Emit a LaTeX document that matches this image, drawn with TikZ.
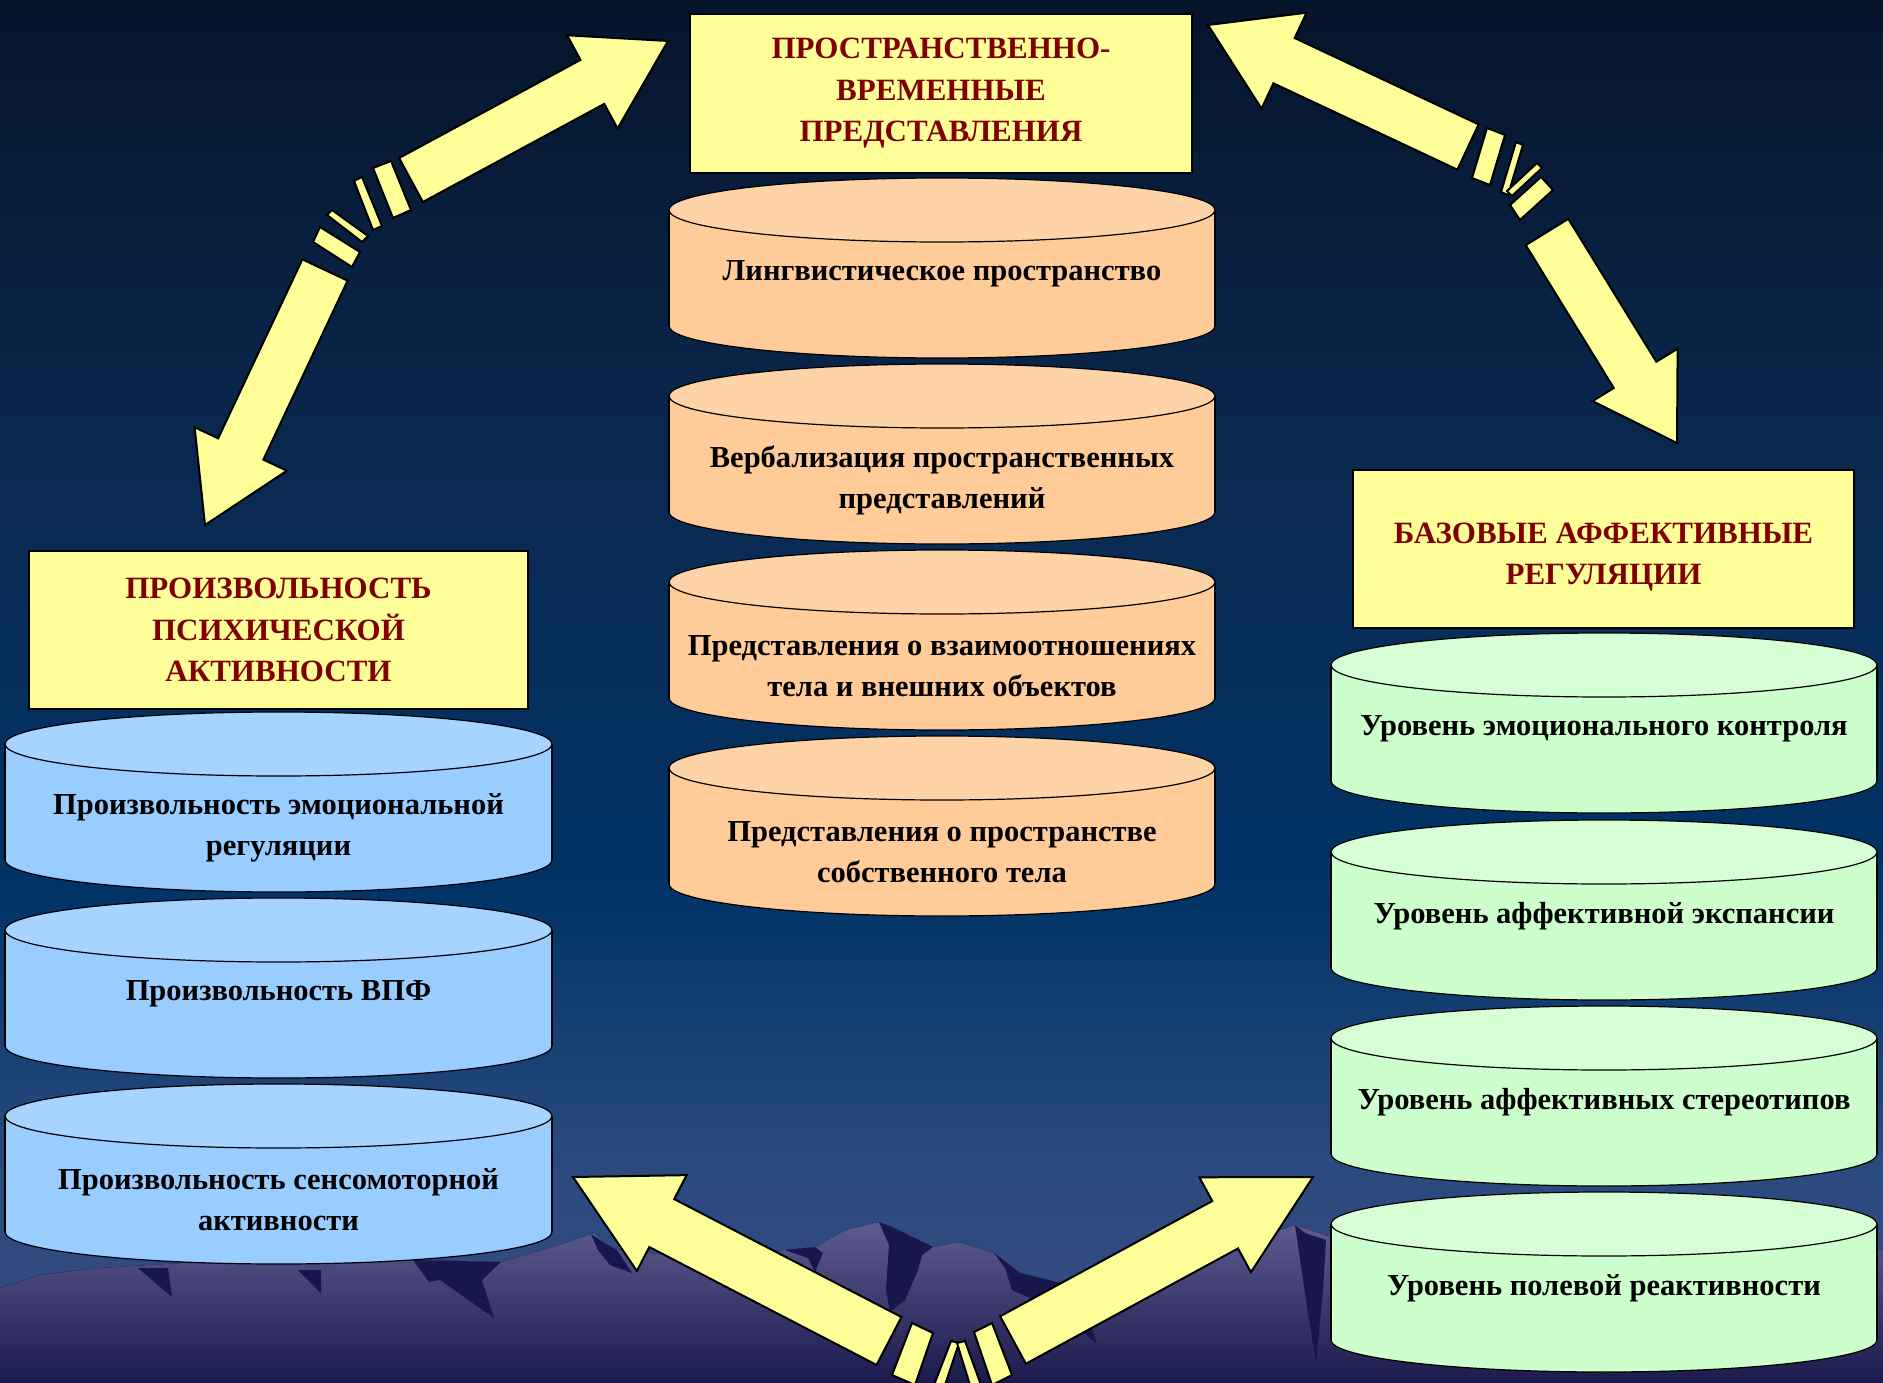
\documentclass[tikz,border=0pt]{standalone}
\usepackage{fontspec}
\setmainfont{Liberation Serif}
\usetikzlibrary{calc}
\definecolor{bgA}{HTML}{06142B}
\definecolor{bgB}{HTML}{0B2A52}
\definecolor{bgC}{HTML}{003366}
\definecolor{bgD}{HTML}{2A4A7E}
\definecolor{bgE}{HTML}{3A4A82}
\definecolor{mtTop}{HTML}{5E5C8E}
\definecolor{mtBot}{HTML}{1B1A4D}
\definecolor{mtDark}{HTML}{17164D}
\definecolor{arrowY}{HTML}{FFFF99}
\definecolor{boxY}{HTML}{FFFF99}
\definecolor{hdrRed}{HTML}{800000}
\definecolor{orBody}{HTML}{FFCC99}
\definecolor{orTop}{HTML}{FFD3A8}
\definecolor{blBody}{HTML}{99CCFF}
\definecolor{blTop}{HTML}{A6D3FF}
\definecolor{grBody}{HTML}{CCFFCC}
\definecolor{grTop}{HTML}{D6FFD6}
\pgfdeclareverticalshading{bgshade}{100bp}{color(0bp)=(bgE); color(25bp)=(bgE); color(33bp)=(bgD); color(43bp)=(bgC); color(57bp)=(bgB); color(75bp)=(bgA); color(100bp)=(bgA)}
\tikzset{
  yarrow/.style={fill=arrowY, draw=black, line width=2pt, line join=miter},
  hbox/.style={fill=boxY, draw=black, line width=1.2pt, text=hdrRed,
    font=\fontsize{31}{41.5}\selectfont\bfseries, align=center, inner sep=0pt},
  htext/.style={text=hdrRed, font=\fontsize{31}{41.5}\selectfont\bfseries, align=center, inner sep=0pt},
  ctext/.style={font=\fontsize{30.5}{41}\selectfont\bfseries, align=center, inner sep=0pt, text=black},
  cylline/.style={draw=black, line width=1.2pt},
  shadow/.style={fill=mtDark},
}
% cylinder: #1 cx, #2 top, #3 rx, #4 body colour, #5 top colour
\newcommand\drawcyl[5]{%
  \path[cylline, fill=#4] (#1,#2+148) ellipse[x radius=#3, y radius=32];
  \fill[#4] (#1-#3,#2+32) rectangle (#1+#3,#2+148);
  \draw[cylline] (#1-#3,#2+32) -- (#1-#3,#2+148) (#1+#3,#2+32) -- (#1+#3,#2+148);
  \path[cylline, fill=#5] (#1,#2+32) ellipse[x radius=#3, y radius=32];
}
% block arrow: #1 base, #2 tip, #3 head length, #4 head half width, #5 shaft half width
\newcommand\blockarrow[5]{%
  \coordinate (hb) at ($(#2)!#3!(#1)$);
  \draw[yarrow] ($(#1)!#5!90:(#2)$) -- ($(hb)!#5!90:(#2)$) -- ($(hb)!#4!90:(#2)$) -- (#2)
    -- ($(hb)!#4!-90:(#2)$) -- ($(hb)!#5!-90:(#2)$) -- ($(#1)!#5!-90:(#2)$) -- cycle;
}
\begin{document}
\begin{tikzpicture}[x=1pt,y=-1pt]
\useasboundingbox (0,0) rectangle (1883,1383);
\shade[shading=bgshade] (0,0) rectangle (1883,1383);

% mountains
\fill[top color=mtTop, bottom color=mtBot] (0,1288) -- (40,1275) -- (100,1268) -- (200,1262) -- (330,1263)
  -- (420,1260) -- (501,1262) -- (560,1245) -- (594,1233) -- (606,1244) -- (617,1250) -- (700,1258)
  -- (785,1250) -- (815,1247) -- (846,1230) -- (879,1222) -- (892,1227) -- (933,1247) -- (958,1242)
  -- (994,1253) -- (1020,1273) -- (1060,1283) -- (1120,1280) -- (1180,1262) -- (1240,1245)
  -- (1295,1225) -- (1340,1240) -- (1883,1250) -- (1883,1383) -- (0,1383) -- cycle;
\fill[shadow] (138,1268) -- (168,1268) -- (172,1297) -- cycle;
\fill[shadow] (298,1270) -- (321,1270) -- (321,1293) -- cycle;
\fill[shadow] (413,1260) -- (501,1262) -- (482,1280) -- (494,1318) -- (440,1280) -- (429,1282) -- cycle;
\fill[shadow] (591,1234) -- (606,1244) -- (617,1250) -- (632,1273) -- (610,1265) -- (598,1250) -- cycle;
\fill[shadow] (785,1250) -- (815,1247) -- (823,1253) -- (815,1272) -- (808,1258) -- cycle;
\fill[shadow] (879,1222) -- (892,1227) -- (933,1247) -- (922,1255) -- (918,1270) -- (905,1300) -- (890,1312) -- (886,1290) -- (889,1245) -- cycle;
\fill[shadow] (994,1253) -- (1020,1273) -- (1060,1283) -- (1090,1318) -- (1096,1343) -- (1060,1312) -- (1012,1290) -- (1005,1268) -- cycle;
\fill[shadow] (1295,1225) -- (1305,1233) -- (1326,1240) -- (1323,1290) -- (1316,1363) -- (1306,1300) -- cycle;

% header boxes
\node[hbox, minimum width=502pt, minimum height=159pt] (hC) at (941,93.5) {ПРОСТРАНСТВЕННО-\\ВРЕМЕННЫЕ\\ПРЕДСТАВЛЕНИЯ};
\node[hbox, minimum width=499pt, minimum height=158pt] (hL) at (278.5,630) {ПРОИЗВОЛЬНОСТЬ\\ПСИХИЧЕСКОЙ\\АКТИВНОСТИ};
\node[hbox, minimum width=501pt, minimum height=158pt] (hR) at (1603.5,549) {};
\node[htext] (hRt) at (1603.5,557) {БАЗОВЫЕ АФФЕКТИВНЫЕ\\РЕГУЛЯЦИИ};

% arrow end points
\coordinate (tlB1) at (411,180);  \coordinate (tlT1) at (668,41);
\coordinate (tlB2) at (325,270);  \coordinate (tlT2) at (205,525);
\coordinate (trB1) at (1468,147); \coordinate (trT1) at (1208,25);
\coordinate (trB2) at (1547,232); \coordinate (trT2) at (1677,443);
\coordinate (blB) at (889,1341);  \coordinate (blT) at (573,1177);
\coordinate (brB) at (1013,1340); \coordinate (brT) at (1313,1177);

\blockarrow{tlB1}{tlT1}{86pt}{53pt}{25pt}
\blockarrow{tlB2}{tlT2}{84pt}{51pt}{25pt}
\blockarrow{trB1}{trT1}{84pt}{53pt}{25pt}
\blockarrow{trB2}{trT2}{80pt}{50pt}{25pt}
\blockarrow{blB}{blT}{100pt}{54pt}{27pt}
\blockarrow{brB}{brT}{100pt}{54pt}{27pt}

% broken pieces
\draw[yarrow] (373,168) -- (391,161) -- (411,210) -- (393,218) -- cycle;
\draw[yarrow] (354,181) -- (362,177) -- (382,226) -- (373,230) -- cycle;
\draw[yarrow] (327,215) -- (332,210) -- (368,236) -- (362,242) -- cycle;
\draw[yarrow] (313,242) -- (320,227) -- (360,252) -- (352,267) -- cycle;

\draw[yarrow] (1487,128) -- (1505,135) -- (1490,185) -- (1472,178) -- cycle;
\draw[yarrow] (1516,142) -- (1523,145) -- (1508,195) -- (1501,192) -- cycle;
\draw[yarrow] (1537,163) -- (1542,168) -- (1512,196) -- (1507,191) -- cycle;
\draw[yarrow] (1541,177) -- (1553,190) -- (1520,220) -- (1510,205) -- cycle;

\draw[yarrow] (912,1323) -- (933,1333) -- (915,1385) -- (892,1375) -- cycle;
\draw[yarrow] (951,1341) -- (959,1343) -- (945,1385) -- (934,1385) -- cycle;
\draw[yarrow] (974,1332) -- (992,1323) -- (1012,1375) -- (992,1385) -- cycle;
\draw[yarrow] (957,1343) -- (965,1341) -- (981,1385) -- (970,1385) -- cycle;

% centre cylinders
\drawcyl{942}{178}{273}{orBody}{orTop}
\drawcyl{942}{364}{273}{orBody}{orTop}
\drawcyl{942}{550}{273}{orBody}{orTop}
\drawcyl{942}{736}{273}{orBody}{orTop}
\node[ctext] (c1) at (942,274) {Лингвистическое пространство};
\node[ctext] (c2) at (942,480) {Вербализация пространственных\\представлений};
\node[ctext] (c3) at (942,666) {Представления о взаимоотношениях\\тела и внешних объектов};
\node[ctext] (c4) at (942,852) {Представления о пространстве\\собственного тела};

% left cylinders
\drawcyl{278.5}{712}{273.5}{blBody}{blTop}
\drawcyl{278.5}{898}{273.5}{blBody}{blTop}
\drawcyl{278.5}{1084}{273.5}{blBody}{blTop}
\node[ctext] (l1) at (278.5,828) {Произвольность эмоциональной\\регуляции};
\node[ctext] (l2) at (278.5,994) {Произвольность ВПФ};
\node[ctext] (l3) at (278.5,1200) {Произвольность сенсомоторной\\активности};

% right cylinders
\drawcyl{1604}{633}{273}{grBody}{grTop}
\drawcyl{1604}{820}{273}{grBody}{grTop}
\drawcyl{1604}{1006}{273}{grBody}{grTop}
\drawcyl{1604}{1192}{273}{grBody}{grTop}
\node[ctext] (r1) at (1604,729) {Уровень эмоционального контроля};
\node[ctext] (r2) at (1604,916) {Уровень аффективной экспансии};
\node[ctext] (r3) at (1604,1102) {Уровень аффективных стереотипов};
\node[ctext] (r4) at (1604,1288) {Уровень полевой реактивности};
\end{tikzpicture}
\end{document}
